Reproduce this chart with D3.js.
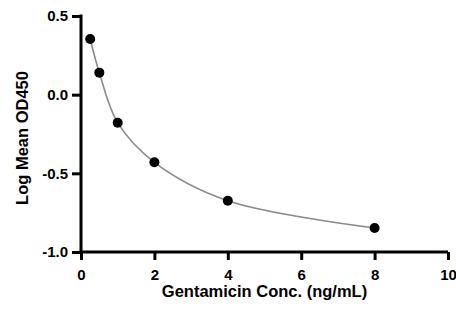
<!DOCTYPE html>
<html>
<head>
<meta charset="utf-8">
<script src="https://cdn.jsdelivr.net/npm/d3@7"></script>
<style>
body { margin: 0; background: #fff; }
text { font-family: "Liberation Sans", Arial, sans-serif; font-weight: bold; }
</style>
</head>
<body>
<script>
// standard curve points
var conc = [0.25, 0.5, 1, 2, 4, 8];
var logOD = [0.354, 0.14, -0.178, -0.43, -0.674, -0.847];
var xTicks = [0, 2, 4, 6, 8, 10];
var yTicks = [0.5, 0.0, -0.5, -1.0];

var width = 456, height = 310;
var margin = {top: 16, right: 8, bottom: 58, left: 81};

var svg = d3.select("body").append("svg")
	.attr("width", width)
	.attr("height", height);

var x = d3.scaleLinear().domain([0, 10]).range([margin.left, width - margin.right]);
var y = d3.scaleLinear().domain([-1, 0.5]).range([height - margin.bottom, margin.top]);

var pts = conc.map(function(c, i) { return {x: c, y: logOD[i]}; });

// fitted line
var line = d3.line()
	.x(function(d) { return x(d.x); })
	.y(function(d) { return y(d.y); })
	.curve(d3.curveCatmullRom.alpha(0.5));

svg.append("path")
	.datum(pts)
	.attr("d", line)
	.attr("fill", "none")
	.attr("stroke", "#8a8a8a")
	.attr("stroke-width", 1.6);

svg.selectAll("circle")
	.data(pts)
	.enter()
	.append("circle")
	.attr("cx", function(d) { return x(d.x); })
	.attr("cy", function(d) { return y(d.y); })
	.attr("r", 5)
	.attr("fill", "#000");

// axes
var fmt = d3.format(".1f");
var xAxis = svg.append("g")
	.attr("transform", "translate(0," + y(-1) + ")")
	.call(d3.axisBottom(x).tickValues(xTicks).tickSize(8).tickPadding(9).tickFormat(d3.format("d")));

var yAxis = svg.append("g")
	.attr("transform", "translate(" + x(0) + ",0)")
	.call(d3.axisLeft(y).tickValues(yTicks).tickSize(9).tickPadding(4)
		.tickFormat(function(d) { return fmt(d).replace("\u2212", "-"); }));

[xAxis, yAxis].forEach(function(g) {
	g.select(".domain").attr("stroke", "#000").attr("stroke-width", 3);
	g.selectAll(".tick line").attr("stroke", "#000").attr("stroke-width", 3);
	g.selectAll(".tick text").attr("fill", "#000").style("font-size", "15px");
});
xAxis.select(".domain").attr("d", "M" + (x(0) - 1.5) + ",0H" + x(10));
yAxis.select(".domain").attr("d", "M0," + y(-1) + "V" + (y(0.5) - 1.5));

// axis titles
svg.append("text")
	.attr("x", (x(0) + x(10)) / 2)
	.attr("y", 297)
	.attr("text-anchor", "middle")
	.style("font-size", "16.5px")
	.text("Gentamicin Conc. (ng/mL)");

svg.append("text")
	.attr("transform", "translate(28,138) rotate(-90)")
	.attr("text-anchor", "middle")
	.style("font-size", "16.5px")
	.text("Log Mean OD450");
</script>
</body>
</html>
